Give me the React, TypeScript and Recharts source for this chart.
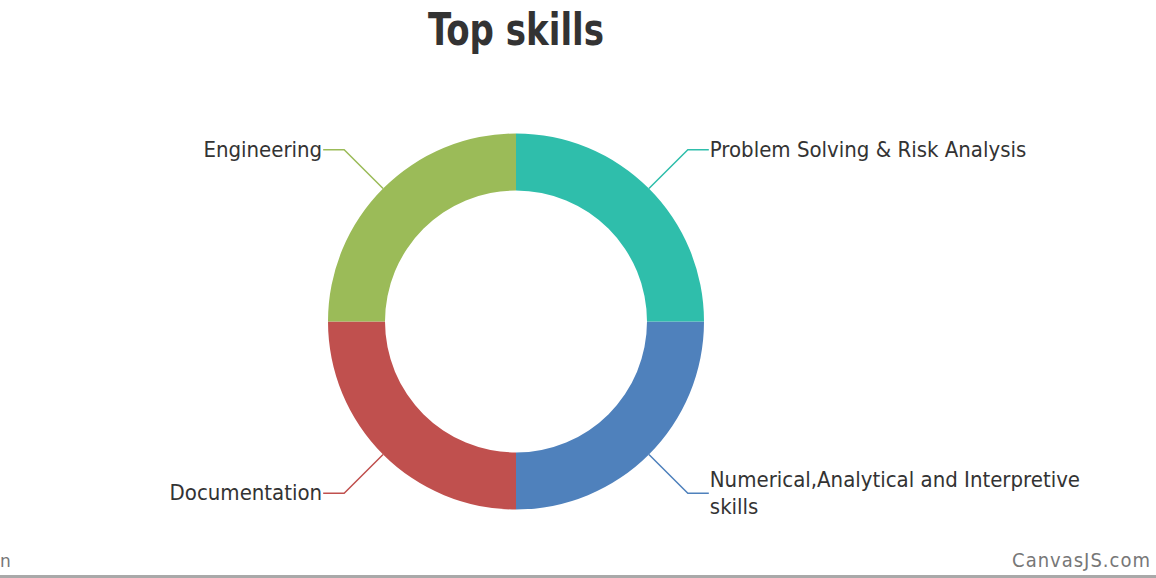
import { PieChart, Pie, Cell } from 'recharts'

const skills = [
  'Numerical,Analytical and Interpretive skills',
  'Documentation',
  'Engineering',
  'Problem Solving & Risk Analysis',
]
const shares = [25, 25, 25, 25]
const colors = ['#4F81BC', '#C0504E', '#9BBB58', '#2FBEAB']

const data = skills.map((name, i) => ({ name, value: shares[i] }))

const RADIAN = Math.PI / 180
const labelFont = "'DejaVu Sans Condensed', 'DejaVu Sans', sans-serif"

// split long labels the way the original wraps them
function wrap(text: string, max: number) {
  const words = text.split(' ')
  const lines: string[] = []
  let cur = ''
  for (const w of words) {
    const next = cur ? cur + ' ' + w : w
    if (next.length > max && cur) {
      lines.push(cur)
      cur = w
    } else {
      cur = next
    }
  }
  if (cur) lines.push(cur)
  return lines
}

function renderLabel(props: any) {
  const { cx, cy, midAngle, outerRadius, index } = props
  const name = skills[index]
  const color = colors[index]
  const cos = Math.cos(-midAngle * RADIAN)
  const sin = Math.sin(-midAngle * RADIAN)
  const sx = cx + outerRadius * cos
  const sy = cy + outerRadius * sin
  const ex = cx + (outerRadius + 55) * cos
  const ey = cy + (outerRadius + 55) * sin
  const right = cos >= 0
  const hx = ex + (right ? 21 : -21)
  const lines = wrap(name, 40)
  const lh = 27
  return (
    <g>
      <path d={`M${sx},${sy}L${ex},${ey}L${hx},${ey}`} stroke={color} strokeWidth={1.5} fill="none" />
      <text
        x={hx + (right ? 1 : -1)}
        y={ey}
        textAnchor={right ? 'start' : 'end'}
        fill="#333"
        fontSize={22}
        fontFamily={labelFont}
      >
        {lines.map((l, i) => (
          <tspan key={i} x={hx + (right ? 1 : -1)} dy={i === 0 ? -((lines.length - 1) * lh) / 2 + 7 : lh}>
            {l}
          </tspan>
        ))}
      </text>
    </g>
  )
}

export default function App() {
  return (
    <div style={{ position: 'absolute', left: 0, top: 0, width: 1156, height: 578, background: '#fff', overflow: 'hidden' }}>
      <div
        style={{
          position: 'absolute', left: 0, top: 0, width: 1032, textAlign: 'center',
          fontFamily: "Impact, 'DejaVu Sans Condensed', sans-serif",
          fontWeight: 'bold', fontSize: 44, color: '#333', lineHeight: '60px',
          transform: 'scaleX(0.86)', transformOrigin: '516px 0',
        }}
      >
        Top skills
      </div>
      <PieChart
        width={1156}
        height={578}
        margin={{ top: 0, right: 0, bottom: 0, left: 0 }}
        style={{ position: 'absolute', left: 0, top: 0 }}
      >
        <Pie
          data={data}
          dataKey="value"
          nameKey="name"
          cx={516}
          cy={321.5}
          innerRadius={131}
          outerRadius={188}
          startAngle={0}
          endAngle={-360}
          stroke="none"
          label={renderLabel}
          labelLine={false}
          isAnimationActive={false}
        >
          {data.map((d, i) => (
            <Cell key={d.name} fill={colors[i]} />
          ))}
        </Pie>
      </PieChart>
      <div style={{ position: 'absolute', left: 0, top: 551, fontFamily: "'DejaVu Sans', sans-serif", fontSize: 17, color: '#777', lineHeight: '20px' }}>
        n
      </div>
      <div style={{ position: 'absolute', right: 5, top: 550, fontFamily: "'DejaVu Sans Condensed', 'DejaVu Sans', sans-serif", fontSize: 20, color: '#777', lineHeight: '20px', letterSpacing: 1 }}>
        CanvasJS.com
      </div>
      <div style={{ position: 'absolute', left: 0, top: 575, width: 1156, height: 3, background: '#a9a9a9' }} />
    </div>
  )
}
